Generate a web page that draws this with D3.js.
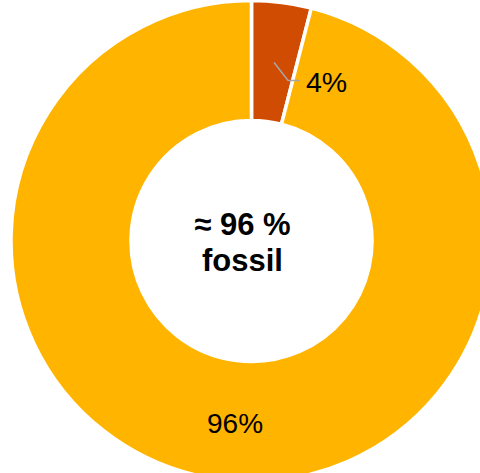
<!DOCTYPE html>
<html>
<head>
<meta charset="utf-8">
<script src="https://cdn.jsdelivr.net/npm/d3@7"></script>
<style>
  html, body { margin: 0; padding: 0; background: #ffffff; }
  svg { display: block; }
</style>
</head>
<body>
<svg id="chart" width="480" height="473"></svg>
<script>
// Energy mix shares (percent)
const categories = ["non-fossil", "fossil"];
const values = [4, 96];
const sliceColors = ["#D04C02", "#FFB400"];
const centerLines = ["≈ 96 %", "fossil"];

const cx = 251.5, cy = 241;
const outerR = 240.5, innerR = 120.5;

const svg = d3.select("#chart");
const g = svg.append("g").attr("transform", `translate(${cx},${cy})`);

const pie = d3.pie().sort(null).value(d => d.value);
const arcs = pie(categories.map((c, i) => ({ name: c, value: values[i] })));
const arc = d3.arc().innerRadius(innerR).outerRadius(outerR);
const color = d3.scaleOrdinal().domain(categories).range(sliceColors);
const fmt = d3.format(".0%");
const total = d3.sum(values);

g.selectAll("path.slice")
  .data(arcs)
  .join("path")
  .attr("class", "slice")
  .attr("d", arc)
  .attr("fill", d => color(d.data.name))
  .attr("stroke", "#ffffff")
  .attr("stroke-width", 3.5);

// Small slice: label outside it, joined by a leader line
const small = arcs[0];
const midA = (small.startAngle + small.endAngle) / 2;
const rStart = 180;
const p0 = [rStart * Math.sin(midA), -rStart * Math.cos(midA)];
const p1 = [288 - cx, 80.5 - cy];
const p2 = [300 - cx, 80.5 - cy];
g.append("polyline")
  .attr("points", [p0, p1, p2].map(p => p.join(",")).join(" "))
  .attr("fill", "none")
  .attr("stroke", "#a6a6a6")
  .attr("stroke-width", 1.5);

g.append("text")
  .attr("x", p2[0] + 6)
  .attr("y", p2[1] + 11)
  .attr("font-family", "Liberation Sans, Arial, sans-serif")
  .attr("font-size", 28.5)
  .attr("fill", "#000")
  .text(fmt(small.data.value / total));

// Large slice: label inside the ring near the bottom
const big = arcs[1];
g.append("text")
  .attr("x", 235 - cx)
  .attr("y", 433 - cy)
  .attr("text-anchor", "middle")
  .attr("font-family", "Liberation Sans, Arial, sans-serif")
  .attr("font-size", 28)
  .attr("fill", "#000")
  .text(fmt(big.data.value / total));

// Centre caption
const caption = svg.append("text")
  .attr("text-anchor", "middle")
  .attr("font-family", "Liberation Sans, Arial, sans-serif")
  .attr("font-weight", "bold")
  .attr("font-size", 31)
  .attr("fill", "#000");
caption.selectAll("tspan")
  .data(centerLines)
  .join("tspan")
  .attr("x", 242.5)
  .attr("y", (d, i) => 234.5 + i * 36)
  .text(d => d);
</script>
</body>
</html>
